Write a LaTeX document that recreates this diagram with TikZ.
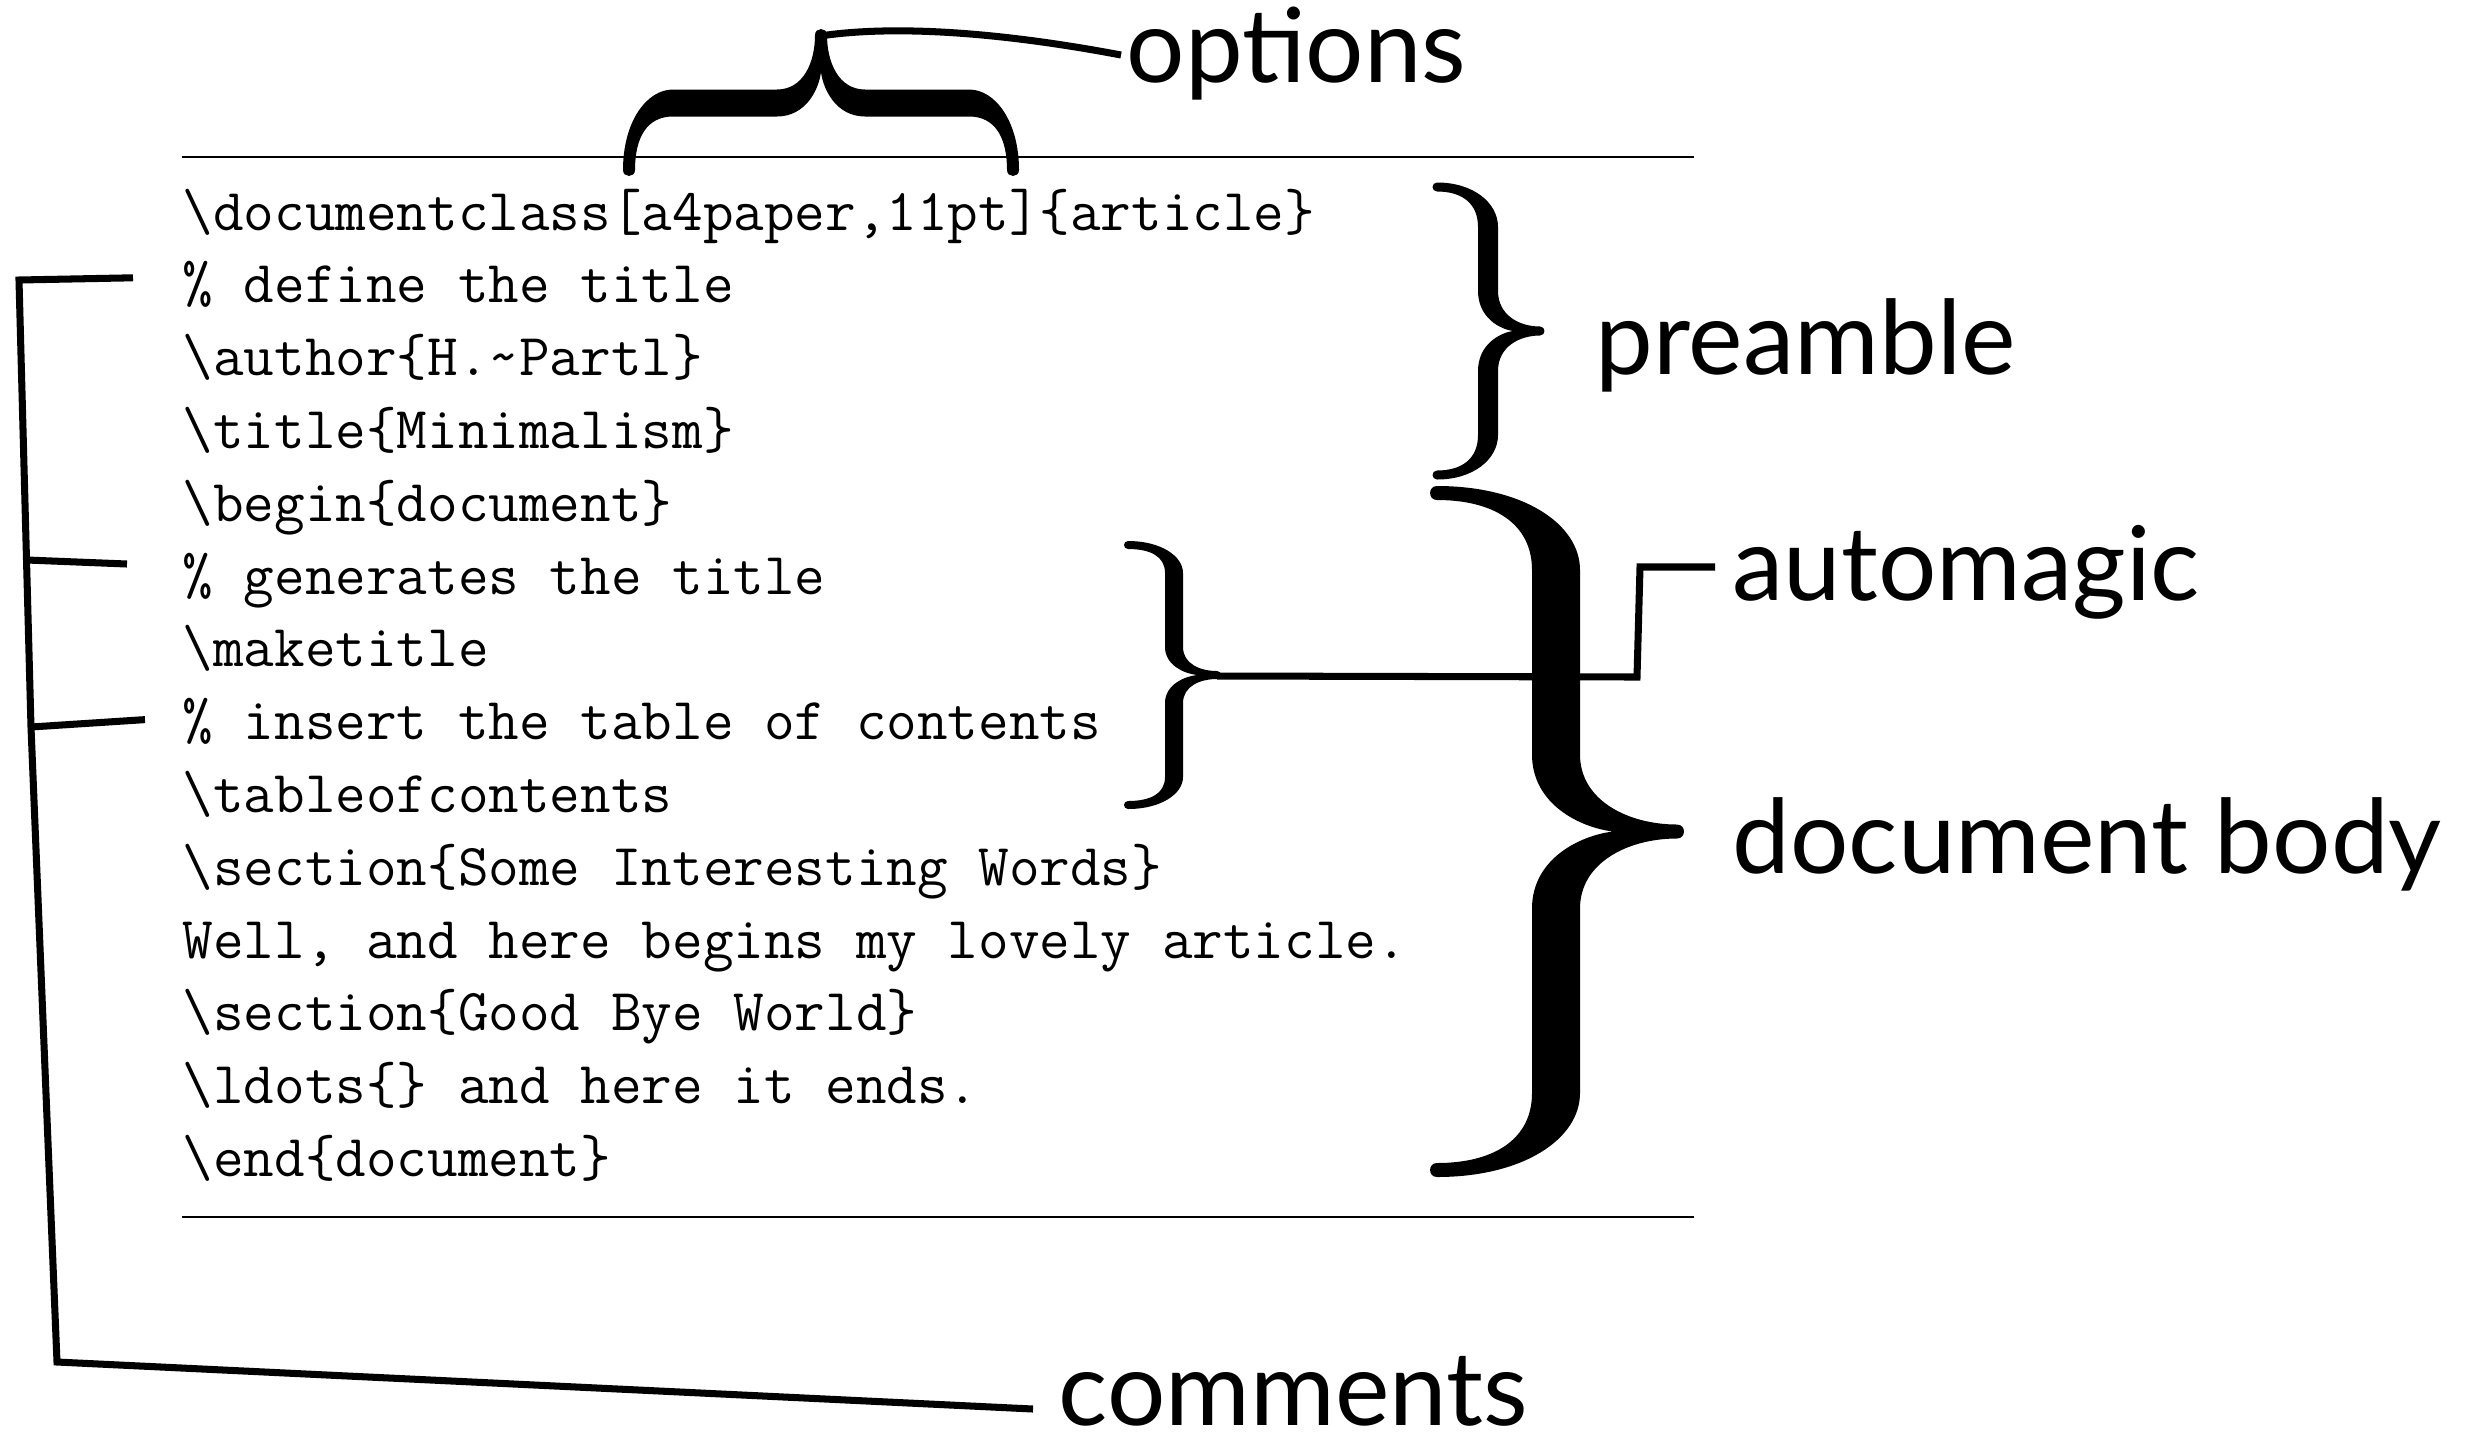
\documentclass[tikz,border=0pt]{standalone}
\usepackage{fontspec}
\newfontfamily\labelfont{Lato}
\usetikzlibrary{calc}

% filled curly brace, pointing to +x, ends at (0,-#1) and (0,#1)
% #1 half height, #2 stem x, #3 half stem width, #4 tip x,
% #5 bend length, #6 end thickness, #7 notch x
\newcommand{\curlybrace}[7]{%
  \fill (0,{-#1-#6/2})
    .. controls ({0.6*(#2+#3)},{-#1-#6/2}) and ({#2+#3},{-#1+0.4*#5}) .. ({#2+#3},{-#1+#5})
    -- ({#2+#3},{-#5})
    .. controls ({#2+#3},{-0.4*#5}) and ({#4-0.5*(#4-#2-#3)},{-#6/2}) .. (#4,{-#6/2})
    .. controls ({#4+0.66*#6},{-#6/2}) and ({#4+0.66*#6},{#6/2}) .. (#4,{#6/2})
    .. controls ({#4-0.5*(#4-#2-#3)},{#6/2}) and ({#2+#3},{0.4*#5}) .. ({#2+#3},{#5})
    -- ({#2+#3},{#1-#5})
    .. controls ({#2+#3},{#1-0.4*#5}) and ({0.6*(#2+#3)},{#1+#6/2}) .. (0,{#1+#6/2})
    .. controls ({-0.66*#6},{#1+#6/2}) and ({-0.66*#6},{#1-#6/2}) .. (0,{#1-#6/2})
    .. controls ({0.6*(#2-#3)},{#1-#6/2}) and ({#2-#3},{#1-0.4*#5}) .. ({#2-#3},{#1-#5})
    -- ({#2-#3},{#5})
    .. controls ({#2-#3},{0.35*#5}) and ({#7-0.4*(#7-#2+#3)},{0.05*#5}) .. (#7,0)
    .. controls ({#7-0.4*(#7-#2+#3)},{-0.05*#5}) and ({#2-#3},{-0.35*#5}) .. ({#2-#3},{-#5})
    -- ({#2-#3},{-#1+#5})
    .. controls ({#2-#3},{-#1+0.4*#5}) and ({0.6*(#2-#3)},{-#1+#6/2}) .. (0,{-#1+#6/2})
    .. controls ({-0.66*#6},{-#1+#6/2}) and ({-0.66*#6},{-#1-#6/2}) .. cycle;
}

\begin{document}
\begin{tikzpicture}[x=0.01cm, y=-0.01cm,
    codeLine/.style={anchor=base west, inner sep=0pt, font=\ttfamily\fontsize{16.9}{20}\selectfont},
    bigLabel/.style={anchor=base west, inner sep=0pt, font=\labelfont\fontsize{29.3}{34}\selectfont},
    linkLine/.style={line width=2pt},
    ruleLine/.style={line width=0.6pt}]
  \useasboundingbox (0,0) rectangle (2476,1436);
  \def\lineSkip{72.8}
  \def\bs{\textbackslash}

  % the source file
  \foreach \txt [count=\i] in {
      {\bs documentclass[a4paper,11pt]\{article\}},
      {\% define the title},
      {\bs author\{H.\textasciitilde Partl\}},
      {\bs title\{Minimalism\}},
      {\bs begin\{document\}},
      {\% generates the title},
      {\bs maketitle},
      {\% insert the table of contents},
      {\bs tableofcontents},
      {\bs section\{Some Interesting Words\}},
      {Well, and here begins my lovely article.},
      {\bs section\{Good Bye World\}},
      {\bs ldots\{\} and here it ends.},
      {\bs end\{document\}}} {
    \node[codeLine] (l\i) at (182,{230+\lineSkip*(\i-1)}) {\txt};
  }
  \draw[ruleLine] (182,157) -- (1694,157);
  \draw[ruleLine] (182,1217) -- (1694,1217);

  % braces
  \begin{scope}[shift={(821,170)}, rotate=90]
    \curlybrace{192}{67}{13.5}{135}{44}{12}{98}
  \end{scope}
  \begin{scope}[shift={(1437,331)}]
    \curlybrace{144}{51}{10}{103}{40}{9}{76}
  \end{scope}
  \begin{scope}[shift={(1437,831.5)}]
    \curlybrace{338.5}{119}{24}{240}{77}{14}{176}
  \end{scope}
  \begin{scope}[shift={(1128,675)}]
    \curlybrace{130}{46}{9}{89}{28}{8}{69}
  \end{scope}

  % labels
  \node[bigLabel] (opts) at (1126,82) {options};
  \node[bigLabel] (pre) at (1595,374) {preamble};
  \node[bigLabel] (magic) at (1732,600) {automagic};
  \node[bigLabel] (body) at (1732,873) {document body};
  \node[bigLabel] (comm) at (1058,1425) {comments};

  % connectors
  \coordinate (optTip) at (820,36);
  \draw[linkLine] (optTip) .. controls (900,24) and (1010,34) .. ($(opts.base west)+(-5,-27)$);
  \coordinate (magicTip) at (1217,676);
  \draw[linkLine] (magicTip) -- (1637,677) -- (1640,567) -- ($(magic.base west)+(-17,-33)$);
  \coordinate (cTop) at (19,280);
  \coordinate (cMid) at (31,727);
  \coordinate (cLow) at (57,1362);
  \draw[linkLine] ($(l2.base west)+(-49,-25)$) -- (cTop) -- (cMid) -- (cLow) -- ($(comm.base west)+(-25,-16)$);
  \draw[linkLine] ($(l6.base west)+(-55,-30)$) -- (27,560);
  \draw[linkLine] ($(l8.base west)+(-37,-20)$) -- (cMid);
\end{tikzpicture}
\end{document}
